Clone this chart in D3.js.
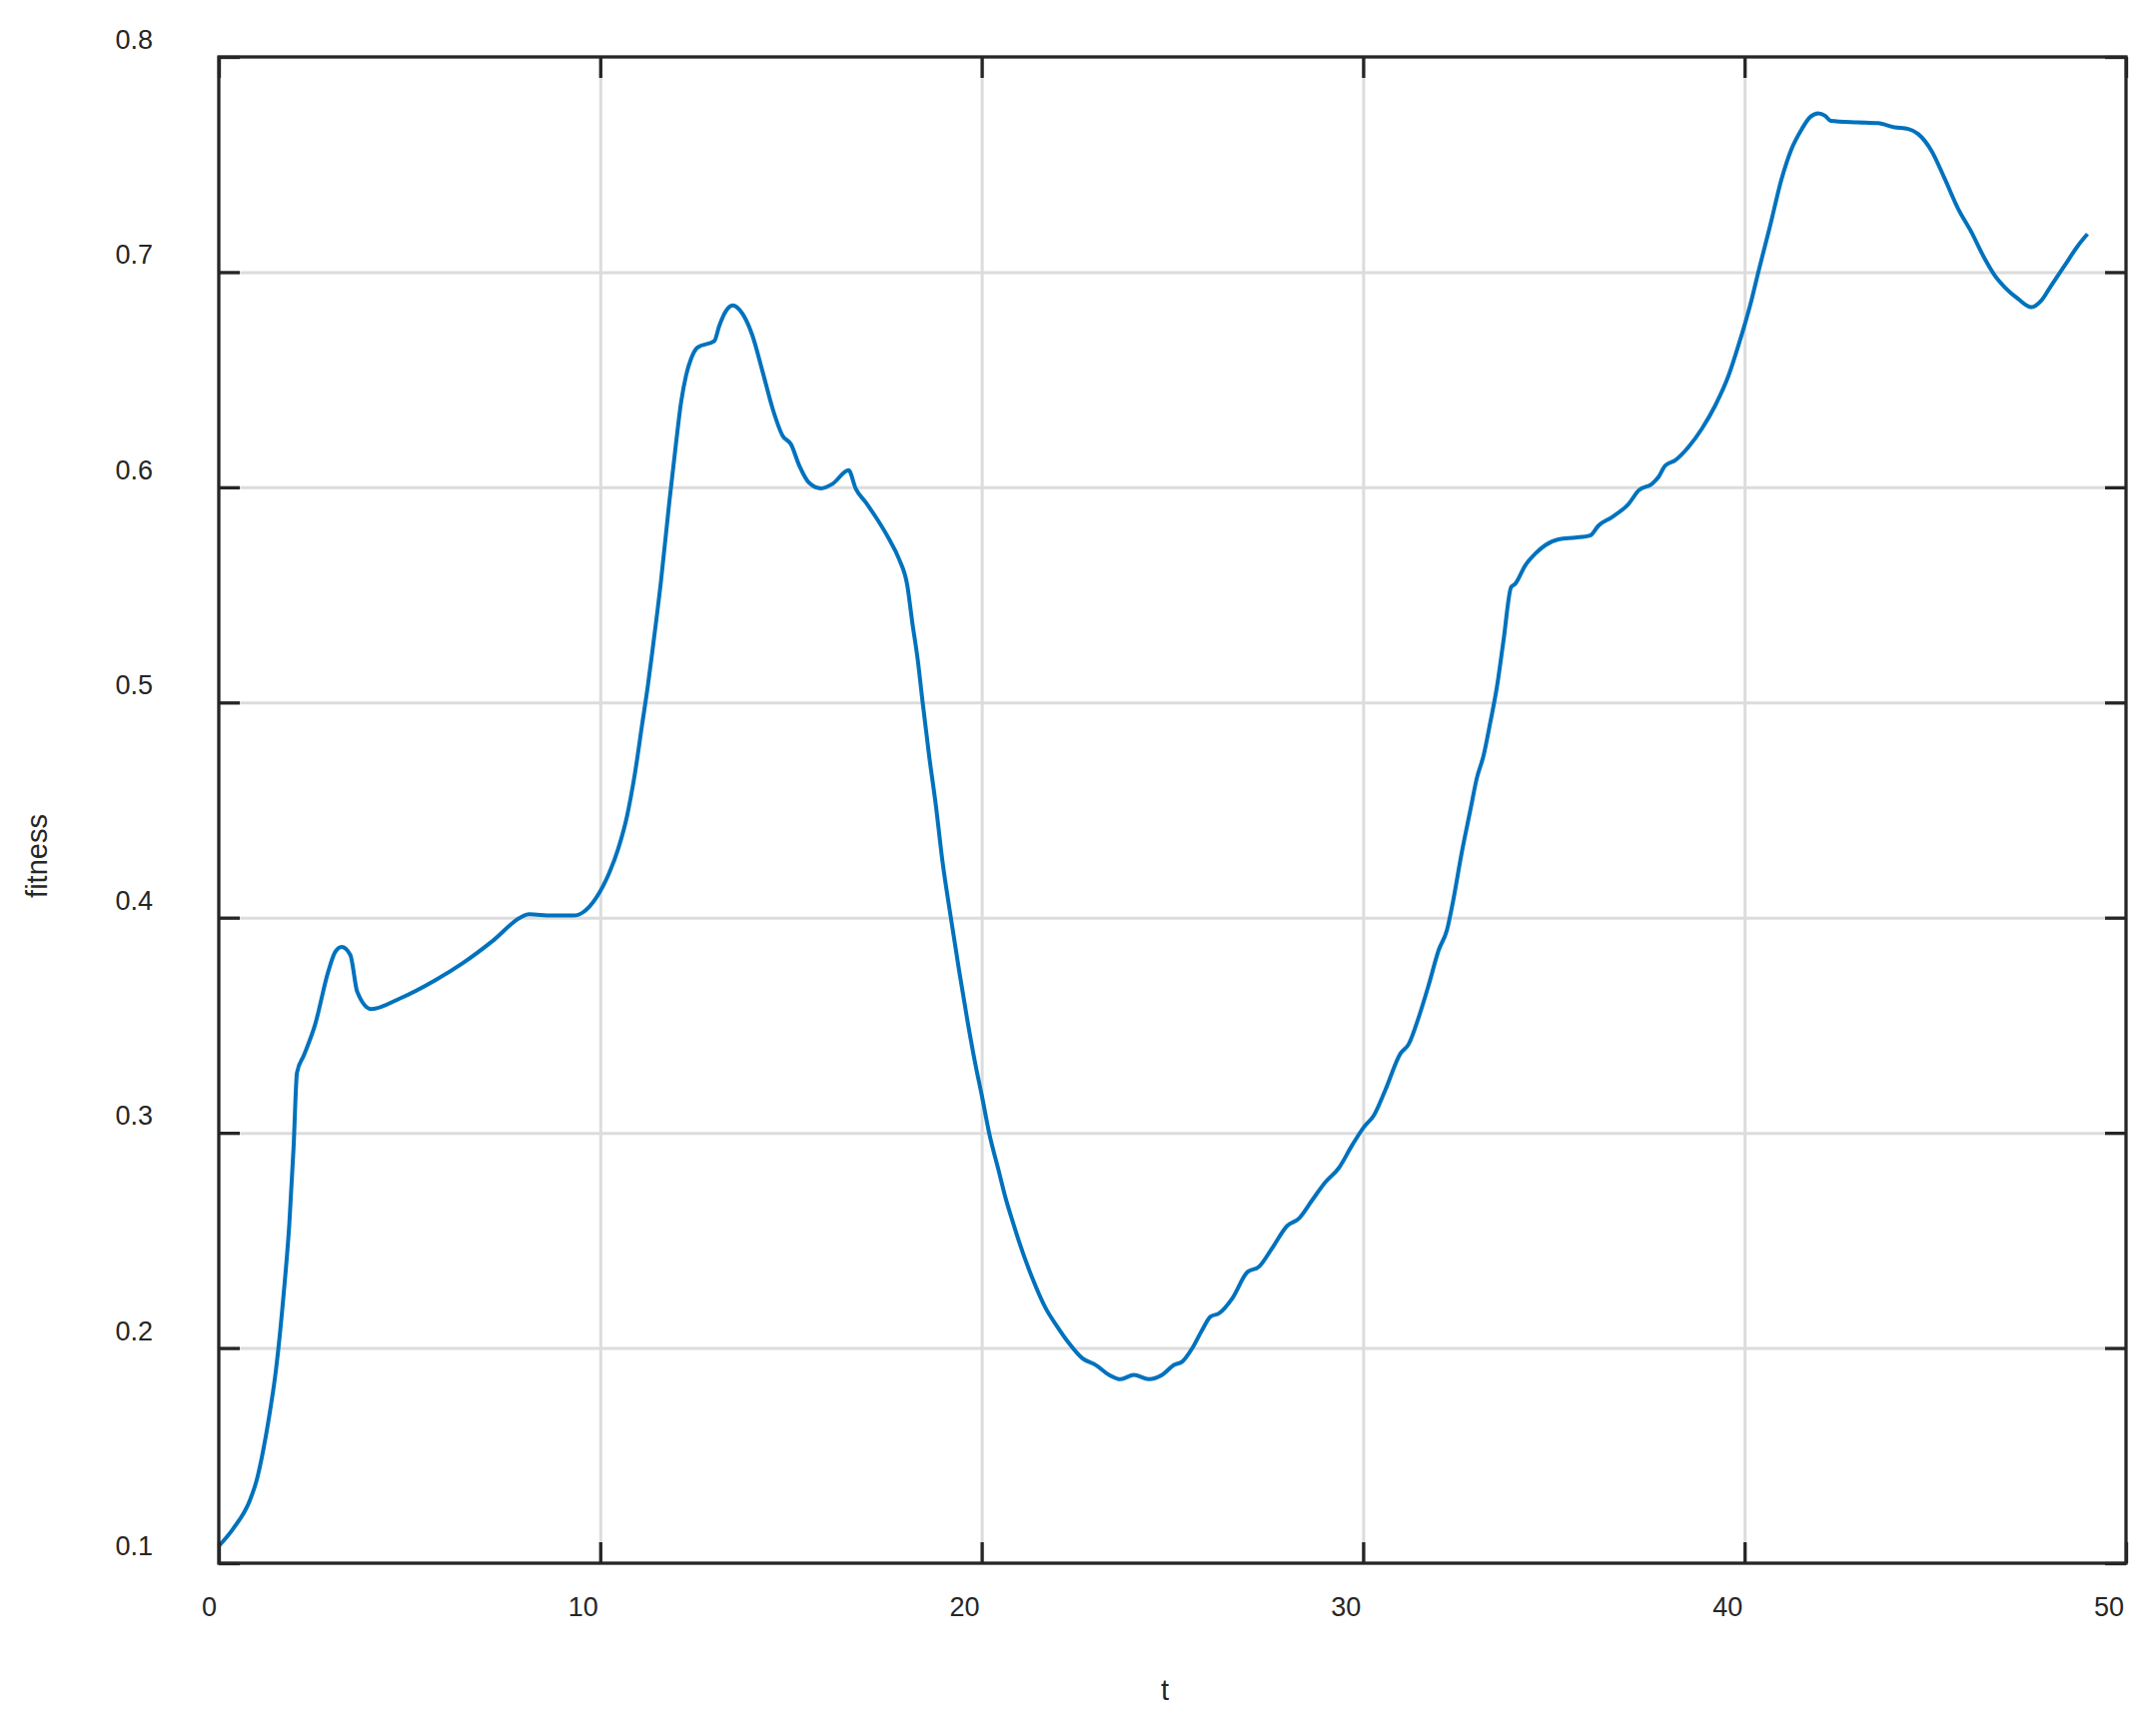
<!DOCTYPE html>
<html>
<head>
<meta charset="utf-8">
<script src="https://cdn.jsdelivr.net/npm/d3@7"></script>
<style>
  body { margin: 0; background: #fff; }
  svg { display: block; font-family: "Liberation Sans", Arial, sans-serif; }
</style>
</head>
<body>
<svg id="chart"></svg>
<script>
// time points (t) and fitness values
const tValues = [
  0, 0.375, 0.81, 1.0, 1.16, 1.3, 1.5, 1.7, 1.85, 1.96, 2.05, 2.23, 2.52, 2.87, 3.05, 3.22, 3.45, 3.63, 4.0,
  4.74, 5.68, 6.38, 7.2, 7.9, 8.13, 8.72, 9.3, 9.88, 10.24, 10.47, 10.7, 10.9, 11.1, 11.25, 11.375,
  11.59, 11.81, 11.99, 12.12, 12.25, 12.38, 12.55, 12.99, 13.12, 13.3, 13.47, 13.73, 13.99, 14.26,
  14.52, 14.78, 15.0, 15.22, 15.48, 15.79, 16.09, 16.51, 16.7, 16.96, 17.31, 17.57, 17.83, 18.05,
  18.18, 18.32, 18.45, 18.62, 18.8, 18.97, 19.19, 19.41, 19.63, 19.85, 20.0, 20.19, 20.46, 20.63,
  20.8, 20.98, 21.33, 21.68, 21.98, 22.29, 22.64, 22.99, 23.34, 23.64, 23.99, 24.38, 24.73, 25.04,
  25.26, 25.52, 25.78, 26.0, 26.22, 26.57, 26.96, 27.27, 27.61, 28.01, 28.31, 28.66, 29.01, 29.36,
  29.71, 30.02, 30.28, 30.58, 30.98, 31.19, 31.46, 31.72, 31.98, 32.2, 32.33, 32.59, 32.81, 32.98,
  33.16, 33.33, 33.51, 33.68, 33.88, 33.99, 34.25, 34.51, 34.77, 35.12, 35.56, 35.95, 36.17, 36.52,
  36.96, 37.22, 37.57, 37.74, 37.92, 38.18, 38.53, 38.88, 39.23, 39.58, 39.84, 40.19, 40.36, 40.67,
  40.97, 41.23, 41.5, 41.71, 41.93, 42.11, 42.26, 42.98, 43.5, 43.94, 44.29, 44.55, 44.9, 45.25,
  45.6, 45.95, 46.3, 46.56, 46.82, 47.17, 47.52, 47.78, 48.04, 48.39, 48.74, 48.99
];
const fitnessValues = [
  0.108, 0.116, 0.129, 0.139, 0.152, 0.166, 0.19, 0.225, 0.258, 0.293, 0.328, 0.336, 0.35, 0.375, 0.384, 0.3864, 0.3826, 0.3655, 0.3575,
  0.3624, 0.371, 0.3787, 0.3895, 0.4, 0.4016, 0.401, 0.401, 0.4089, 0.421, 0.432, 0.447, 0.466, 0.49, 0.508, 0.525,
  0.556, 0.593, 0.621, 0.6396, 0.652, 0.6597, 0.665, 0.668, 0.675, 0.682, 0.6845, 0.6806, 0.6705, 0.6535,
  0.6365, 0.624, 0.62, 0.61, 0.602, 0.5995, 0.6016, 0.6079, 0.5993, 0.593, 0.5838, 0.576, 0.5668, 0.5544,
  0.5373, 0.5203, 0.5004, 0.4755, 0.452, 0.4264, 0.4002, 0.3752, 0.3518, 0.3305, 0.3177, 0.3004, 0.2814, 0.2695,
  0.2595, 0.2494, 0.2324, 0.2184, 0.21, 0.2022, 0.1952, 0.1921, 0.1875, 0.1855, 0.1875, 0.1855, 0.1875, 0.1921,
  0.1937, 0.1999, 0.2084, 0.2146, 0.2161, 0.2231, 0.2352, 0.2378, 0.2463, 0.2568, 0.2601, 0.2686, 0.2771, 0.2836,
  0.2942, 0.3027, 0.3081, 0.3198, 0.3369, 0.3411, 0.3539, 0.3688, 0.3849, 0.3944, 0.4051, 0.4307, 0.4499, 0.4648,
  0.4755, 0.4904, 0.5075, 0.5288, 0.5536, 0.5552, 0.5637, 0.5691, 0.573, 0.5758, 0.5766, 0.5776, 0.5822, 0.5861,
  0.5923, 0.5985, 0.6016, 0.6047, 0.6101, 0.6125, 0.6187, 0.6272, 0.638, 0.6519, 0.666, 0.6876, 0.7, 0.7216,
  0.7433, 0.7572, 0.7665, 0.7719, 0.7738, 0.7727, 0.7703, 0.7696, 0.7692, 0.7673, 0.7665, 0.7642, 0.7564, 0.7433,
  0.7294, 0.7185, 0.7061, 0.6984, 0.693, 0.6876, 0.6837, 0.6868, 0.6938, 0.703, 0.7123, 0.7177
];
const xTicks = [0, 10, 20, 30, 40, 50];
const yTicks = [0.1, 0.2, 0.3, 0.4, 0.5, 0.6, 0.7, 0.8];

class LinePlot {
    margin = { top: 57, right: 30, bottom: 166, left: 219 }

    constructor(svg, width = 2158, height = 1731) {
        this.svg = d3.select(svg);
        this.outerWidth = width;
        this.outerHeight = height;
        this.width = width - this.margin.left - this.margin.right;
        this.height = height - this.margin.top - this.margin.bottom;
    }

    draw() {
        const ink = "#262626";
        const tick = 21;
        const data = tValues.map((t, i) => ({ t: t, f: fitnessValues[i] }));

        this.svg.attr("width", this.outerWidth).attr("height", this.outerHeight);

        const x = d3.scaleLinear().domain([0, 50]).range([0, this.width]);
        const y = d3.scaleLinear().domain([0.1, 0.8]).range([this.height, 0]);

        const g = this.svg.append("g")
            .attr("transform", `translate(${this.margin.left}, ${this.margin.top})`);

        // grid
        const xGrid = g.append("g")
            .attr("transform", `translate(0, ${this.height})`)
            .call(d3.axisBottom(x).tickValues(xTicks.slice(1, -1)).tickSize(-this.height).tickFormat(""));
        const yGrid = g.append("g")
            .call(d3.axisLeft(y).tickValues(yTicks.slice(1, -1)).tickSize(-this.width).tickFormat(""));
        [xGrid, yGrid].forEach(s => {
            s.select(".domain").remove();
            s.selectAll("line").attr("stroke", "#dcdcdc").attr("stroke-width", 3);
        });

        // line
        g.append("path")
            .datum(data)
            .attr("fill", "none")
            .attr("stroke", "#0072BD")
            .attr("stroke-width", 4)
            .attr("stroke-linejoin", "round")
            .attr("d", d3.line().x(d => x(d.t)).y(d => y(d.f)).curve(d3.curveMonotoneX));

        // inward ticks on all four sides
        const sides = [
            [d3.axisBottom(x).tickValues(xTicks), `translate(0, ${this.height})`],
            [d3.axisTop(x).tickValues(xTicks), "translate(0, 0)"],
            [d3.axisLeft(y).tickValues(yTicks), "translate(0, 0)"],
            [d3.axisRight(y).tickValues(yTicks), `translate(${this.width}, 0)`]
        ];
        sides.forEach(([axis, tr]) => {
            const a = g.append("g").attr("transform", tr)
                .call(axis.tickSize(-tick).tickFormat(""));
            a.select(".domain").remove();
            a.selectAll("line").attr("stroke", ink).attr("stroke-width", 3.3);
        });

        // box
        g.append("rect")
            .attr("width", this.width)
            .attr("height", this.height)
            .attr("fill", "none")
            .attr("stroke", ink)
            .attr("stroke-width", 3.3);

        // tick labels
        g.append("g").selectAll("text")
            .data(xTicks)
            .join("text")
            .attr("x", d => x(d) - 2)
            .attr("y", this.height + 53)
            .attr("text-anchor", "end")
            .attr("font-size", 27)
            .attr("fill", ink)
            .text(d => d);

        g.append("g").selectAll("text")
            .data(yTicks)
            .join("text")
            .attr("x", -66)
            .attr("y", d => y(d) - 8)
            .attr("text-anchor", "end")
            .attr("font-size", 27)
            .attr("fill", ink)
            .text(d => d3.format(".1f")(d));

        // axis titles
        this.svg.append("text")
            .attr("x", 1166)
            .attr("y", 1702)
            .attr("text-anchor", "middle")
            .attr("font-size", 29)
            .attr("fill", ink)
            .text("t");

        this.svg.append("text")
            .attr("transform", "translate(47, 857) rotate(-90)")
            .attr("text-anchor", "middle")
            .attr("font-size", 29)
            .attr("fill", ink)
            .text("fitness");
    }
}

const plot = new LinePlot("#chart");
plot.draw();
</script>
</body>
</html>
